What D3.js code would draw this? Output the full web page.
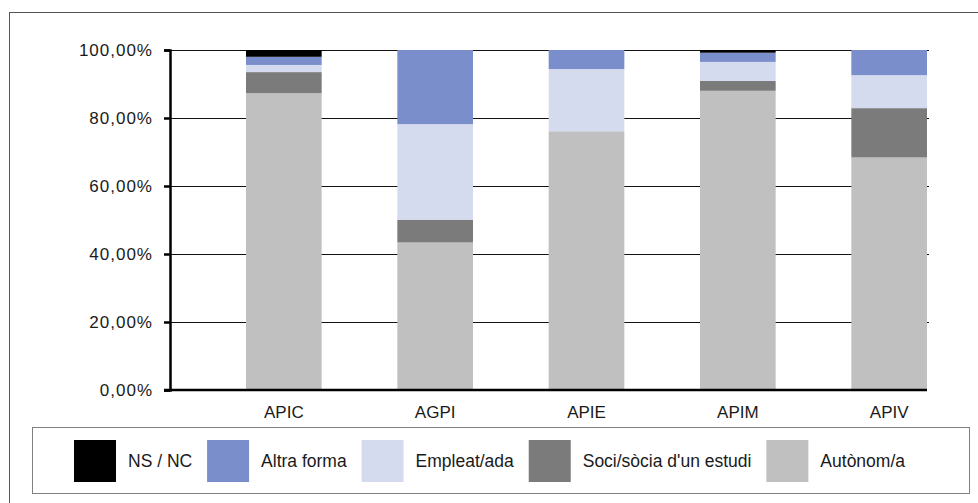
<!DOCTYPE html>
<html><head><meta charset="utf-8">
<script src="https://cdn.jsdelivr.net/npm/d3@7"></script>
<style>
html,body{margin:0;padding:0;background:#fff;}
svg text{font-family:"Liberation Sans",Arial,sans-serif;fill:#1a1a1a;}
</style></head>
<body>
<svg id="chart" width="978" height="503"></svg>
<script>
const categories = ["APIC", "AGPI", "APIE", "APIM", "APIV"];
const autonom = [87.3, 43.4, 76.1, 88.0, 68.4];
const soci    = [6.2, 6.7, 0.0, 2.9, 14.5];
const empleat = [2.1, 28.1, 18.3, 5.6, 9.7];
const altra   = [2.4, 21.8, 5.6, 2.7, 7.4];
const nsnc    = [2.0, 0.0, 0.0, 0.8, 0.0];
const seriesNames = ["Autònom/a", "Soci/sòcia d'un estudi", "Empleat/ada", "Altra forma", "NS / NC"];
const seriesValues = [autonom, soci, empleat, altra, nsnc];
const seriesColors = ["#c0c0c0", "#7b7b7b", "#d5dbee", "#7a8ecc", "#000000"];
const yTicks = [0, 0.2, 0.4, 0.6, 0.8, 1.0];

const svg = d3.select("#chart");

// outer frame
svg.append("rect").attr("x", 9.5).attr("y", 12.5).attr("width", 1000).attr("height", 520)
  .attr("fill", "none").attr("stroke", "#555").attr("stroke-width", 1);

const plotLeft = 170, plotRight = 929, plotTop = 50, plotBottom = 390;

const rows = categories.map((c, i) => {
  const r = {cat: c};
  seriesNames.forEach((s, j) => r[s] = seriesValues[j][i] / 100);
  return r;
});
const stacked = d3.stack().keys(seriesNames)(rows);

const x = d3.scaleBand().domain(categories)
  .range([plotLeft + 76, 927]).paddingInner(0.5).paddingOuter(0);
const y = d3.scaleLinear().domain([0, 1]).range([plotBottom, plotTop]);

const loc = d3.formatLocale({decimal: ",", thousands: ".", grouping: [3], currency: ["", "€"], percent: "%"});
const fmt = loc.format(".2%");

// gridlines
svg.append("g").selectAll("line").data(yTicks.filter(t => t > 0)).join("line")
  .attr("x1", plotLeft).attr("x2", plotRight)
  .attr("y1", d => Math.round(y(d)) + 0.5).attr("y2", d => Math.round(y(d)) + 0.5)
  .attr("stroke", "#111").attr("stroke-width", 1);

// bars
svg.append("g").selectAll("g").data(stacked).join("g")
  .attr("fill", (d, i) => seriesColors[i])
  .selectAll("rect").data(d => d).join("rect")
  .attr("x", d => x(d.data.cat))
  .attr("width", x.bandwidth())
  .attr("y", d => y(d[1]))
  .attr("height", d => Math.max(0, y(d[0]) - y(d[1])));

// y axis
const yAxis = svg.append("g").attr("transform", `translate(${plotLeft},0)`)
  .call(d3.axisLeft(y).tickValues(yTicks).tickFormat(fmt).tickSize(6).tickPadding(11));
yAxis.select(".domain").attr("stroke", "#000").attr("stroke-width", 2.5);
yAxis.selectAll(".tick line").attr("stroke", "#000").attr("stroke-width", 2.5);
yAxis.selectAll(".tick text").attr("font-size", 17).attr("letter-spacing", 1)
  .attr("font-family", "Liberation Sans, Arial, sans-serif").attr("fill", "#1a1a1a");

// x axis
const xAxis = svg.append("g").attr("transform", `translate(0,${plotBottom})`)
  .call(d3.axisBottom(x).tickSize(0).tickPadding(16));
xAxis.select(".domain").remove();
svg.append("line").attr("x1", plotLeft - 6).attr("x2", 927)
  .attr("y1", plotBottom).attr("y2", plotBottom)
  .attr("stroke", "#000").attr("stroke-width", 2.5);
xAxis.selectAll(".tick text").attr("font-size", 17).attr("font-family", "Liberation Sans, Arial, sans-serif").attr("fill", "#1a1a1a");

// legend
const lg = svg.append("g");
lg.append("rect").attr("x", 32.5).attr("y", 427.5).attr("width", 937).attr("height", 66)
  .attr("fill", "#fff").attr("stroke", "#808080").attr("stroke-width", 1);
const legendOrder = seriesNames.map((n, i) => ({name: n, color: seriesColors[i]})).reverse();
const items = lg.selectAll("g.item").data(legendOrder).join("g").attr("class", "item");
items.append("rect").attr("width", 42).attr("height", 42).attr("y", 440).attr("fill", d => d.color);
items.append("text").attr("y", 461).attr("dy", "0.35em").attr("font-size", 17.5).text(d => d.name);
const widths = [];
items.select("text").each(function() { widths.push(this.getComputedTextLength()); });
const startX = 74, endX = 905, sw = 42, tg = 12;
const used = d3.sum(widths) + legendOrder.length * (sw + tg);
const gap = (endX - startX - used) / (legendOrder.length - 1);
let cx = startX;
items.each(function(d, i) {
  d3.select(this).select("rect").attr("x", cx);
  d3.select(this).select("text").attr("x", cx + sw + tg);
  cx += sw + tg + widths[i] + gap;
});
</script>
</body></html>
